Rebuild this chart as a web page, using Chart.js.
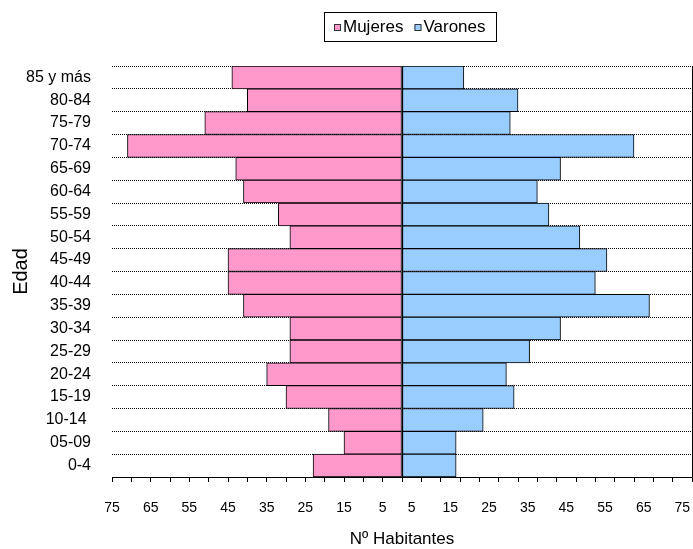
<!DOCTYPE html>
<html>
<head>
<meta charset="utf-8">
<script src="https://cdn.jsdelivr.net/npm/chart.js@4.4.1/dist/chart.umd.min.js"></script>
<style>
    html, body { margin: 0; padding: 0; background: #fff; }
</style>
</head>
<body>
<canvas id="pyramidChart" width="693" height="549"></canvas>
<script>
const ageGroups = [
    "85 y más", "80-84", "75-79", "70-74", "65-69", "60-64",
    "55-59", "50-54", "45-49", "40-44", "35-39", "30-34",
    "25-29", "20-24", "15-19", "10-14 ", "05-09", "0-4",
];
const mujeres = [44, 40, 51, 71, 43, 41, 32, 29, 45, 45, 41, 29, 29, 35, 30, 19, 15, 23];
const varones = [16, 30, 28, 60, 41, 35, 38, 46, 53, 50, 64, 41, 33, 27, 29, 21, 14, 14];
const leftTickLabels = [75, 65, 55, 45, 35, 25, 15, 5];
const rightTickLabels = [5, 15, 25, 35, 45, 55, 65, 75];
const axisMax = 75;

Chart.defaults.font.family = "'Liberation Sans', Arial, sans-serif";
Chart.defaults.color = "#000";

// legend drawn as a framed box like the original
const legendBox = {
    id: "legendBox",
    afterDraw(chart) {
        const ctx = chart.ctx;
        ctx.save();
        ctx.font = "17px 'Liberation Sans', Arial, sans-serif";
        ctx.textBaseline = "middle";
        const items = chart.data.datasets.map((ds) => ({
            text: ds.label,
            color: ds.backgroundColor,
            w: ctx.measureText(ds.label).width,
        }));
        const sq = 7, gapSq = 2, gapItem = 11, pad = 10, boxH = 29;
        let total = gapItem * (items.length - 1);
        items.forEach((it) => { total += sq + gapSq + it.w; });
        const boxW = Math.round(total + pad * 2);
        const left = Math.round(410 - boxW / 2);
        const top = 12;
        ctx.strokeStyle = "#000";
        ctx.lineWidth = 1;
        ctx.strokeRect(left + 0.5, top + 0.5, boxW, boxH);
        let x = left + pad;
        const cy = top + boxH / 2 + 0.5;
        items.forEach((it) => {
            ctx.fillStyle = it.color;
            ctx.fillRect(x, Math.round(cy - sq / 2), sq, sq);
            ctx.strokeStyle = "#333";
            ctx.strokeRect(x + 0.5, Math.round(cy - sq / 2) + 0.5, sq - 1, sq - 1);
            x += sq + gapSq;
            ctx.fillStyle = "#000";
            ctx.fillText(it.text, x, cy);
            x += it.w + gapItem;
        });
        ctx.restore();
    },
};

new Chart(document.getElementById("pyramidChart"), {
    type: "bar",
    data: {
        labels: ageGroups,
        datasets: [
            {
                label: "Mujeres",
                data: mujeres.map((v) => -v),
                backgroundColor: "#FF99CC",
                borderColor: "#000",
                borderWidth: 1,
                borderSkipped: false,
                barPercentage: 1,
                categoryPercentage: 1,
            },
            {
                label: "Varones",
                data: varones,
                backgroundColor: "#99CCFF",
                borderColor: "#000",
                borderWidth: 1,
                borderSkipped: false,
                barPercentage: 1,
                categoryPercentage: 1,
            },
        ],
    },
    options: {
        indexAxis: "y",
        responsive: false,
        animation: false,
        layout: { padding: { top: 66, right: 1, left: 0, bottom: 0 } },
        plugins: {
            legend: { display: false },
            tooltip: { enabled: false },
        },
        scales: {
            x: {
                stacked: true,
                min: -axisMax,
                max: axisMax,
                afterBuildTicks: (scale) => {
                    const ticks = [];
                    for (let v = -axisMax; v <= axisMax; v += 2.5) ticks.push({ value: v });
                    scale.ticks = ticks;
                },
                afterFit: (scale) => {
                    scale.height = 72;
                    scale.paddingLeft = 0;
                    scale.paddingRight = 0;
                },
                ticks: {
                    autoSkip: false,
                    maxRotation: 0,
                    padding: 18,
                    font: { size: 14 },
                    callback: (value) => {
                        if (value < 0 && leftTickLabels.includes(-value)) return String(-value);
                        if (value > 0 && rightTickLabels.includes(value + 2.5)) return String(value + 2.5);
                        return "";
                    },
                },
                grid: {
                    drawOnChartArea: true,
                    drawTicks: true,
                    tickLength: 5,
                    color: (ctx) => (ctx.tick && (ctx.tick.value === 0 || ctx.tick.value === axisMax) ? "#000" : "rgba(0,0,0,0)"),
                    tickColor: (ctx) => (ctx.tick && ctx.tick.value % 5 === 0 ? "#000" : "rgba(0,0,0,0)"),
                },
                border: { display: true, color: "#000", width: 1 },
                title: {
                    display: true,
                    text: "Nº Habitantes",
                    font: { size: 17, lineHeight: 1 },
                    padding: { top: 0, bottom: 1 },
                },
            },
            y: {
                stacked: true,
                afterFit: (scale) => { scale.width = 112; },
                ticks: {
                    padding: 21,
                    font: { size: 16 },
                },
                grid: {
                    offset: true,
                    drawTicks: false,
                    color: "#000",
                },
                border: { display: false, dash: [1, 1] },
                title: {
                    display: true,
                    text: "Edad",
                    font: { size: 20 },
                    padding: { top: 9, bottom: 0 },
                },
            },
        },
    },
    plugins: [legendBox],
});
</script>
</body>
</html>
